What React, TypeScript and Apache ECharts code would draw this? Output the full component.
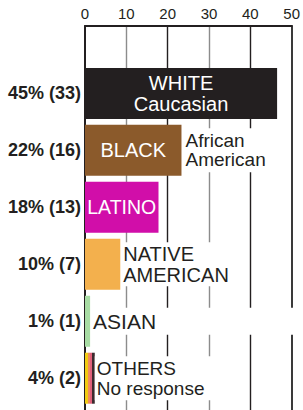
import React, { useEffect, useRef } from 'react';
import * as echarts from 'echarts';

// ---- data ----
const categories = ['WHITE', 'BLACK', 'LATINO', 'NATIVE AMERICAN', 'ASIAN', 'OTHERS'];
const percentLabels = ['45%', '22%', '18%', '10%', '1%', '4%'];
const countLabels = ['(33)', '(16)', '(13)', '(7)', '(1)', '(2)'];
const barValues = [45.2, 22.7, 17.3, 8.3, 1.2, 2.3];
const insideTexts = ['WHITE\nCaucasian', 'BLACK', 'LATINO', '', '', ''];
const outsideTexts = ['', 'African\nAmerican', '', 'NATIVE\nAMERICAN', 'ASIAN', 'OTHERS\nNo response'];
const axisMin = 0;
const axisMax = 50;
const axisStep = 10;

// ---- styles ----
const FONT = '"Liberation Sans", Arial, Helvetica, sans-serif';
const DARK = '#231f20';
const othersGradient = {
  type: 'linear', x: 0, y: 0, x2: 1, y2: 0,
  colorStops: [
    { offset: 0, color: '#f1cc12' }, { offset: 0.33, color: '#f1cc12' },
    { offset: 0.33, color: '#f08a5c' }, { offset: 0.5, color: '#f08a5c' },
    { offset: 0.5, color: '#e0607a' }, { offset: 0.72, color: '#e0607a' },
    { offset: 0.72, color: '#3b2a2e' }, { offset: 1, color: '#3b2a2e' },
  ],
};
const barColors: any[] = ['#231f20', '#8b5a2b', '#d10ea9', '#f3b04d', '#a8dca4', othersGradient];

const insideStyles: any[] = [
  { fontSize: 20, lineHeight: 21 },
  { fontSize: 20, lineHeight: 20 },
  { fontSize: 19.5, lineHeight: 20 },
  {}, {}, {},
];
const outsideStyles: any[] = [
  {},
  { fontSize: 19, lineHeight: 19, padding: [3, 3, 3, 3], distance: 1, width: 80 },
  {},
  { fontSize: 20, lineHeight: 21, padding: [1, 3, 1, 2], distance: 1, width: 112 },
  { fontSize: 21, lineHeight: 21, padding: [3, 0, 3, 2], distance: 1, width: 204 },
  { fontSize: 19, lineHeight: 20, padding: [2, 3, 2, 2], distance: 0, width: 140 },
];

export default function App() {
  const ref = useRef<HTMLDivElement>(null);
  useEffect(() => {
    document.body.style.margin = '0';
    const chart = echarts.init(ref.current!, null, { renderer: 'svg' });
    const option: any = {
      animation: false,
      backgroundColor: '#fff',
      textStyle: { fontFamily: FONT },
      grid: [
        { left: 85, right: 5.5, top: 26, height: 420 },
        { left: 85, right: 5.5, top: 64.9, height: 341.8 },
      ],
      xAxis: [
        {
          gridIndex: 0, type: 'value', min: axisMin, max: axisMax, interval: axisStep, position: 'top',
          axisLine: { show: true, onZero: false, lineStyle: { color: DARK, width: 2 } },
          axisTick: { show: false },
          axisLabel: { fontSize: 15, color: DARK, margin: 5, fontFamily: FONT },
          splitLine: {
            show: true, showMinLine: false, showMaxLine: false,
            lineStyle: { color: ['#8c8c8c', DARK], width: 1.4 },
          },
        },
        { gridIndex: 1, type: 'value', min: axisMin, max: axisMax, show: false },
      ],
      yAxis: [
        {
          gridIndex: 0, type: 'value', min: 0, max: 1, position: 'left',
          axisLine: { show: true, onZero: false, lineStyle: { color: DARK, width: 2 } },
          axisTick: { show: false }, axisLabel: { show: false }, splitLine: { show: false },
        },
        {
          gridIndex: 0, type: 'value', min: 0, max: 1, position: 'right',
          axisLine: { show: true, onZero: false, lineStyle: { color: '#3a3a3a', width: 2 } },
          axisTick: { show: false }, axisLabel: { show: false }, splitLine: { show: false },
        },
        {
          gridIndex: 1, type: 'category', data: categories, inverse: true,
          axisLine: { show: false }, axisTick: { show: false }, splitLine: { show: false },
          axisLabel: {
            margin: 4, fontSize: 18, fontWeight: 'bold', color: DARK, fontFamily: FONT,
            formatter: (_v: string, i: number) => `${percentLabels[i]} ${countLabels[i]}`,
          },
        },
      ],
      series: [
        {
          type: 'bar', xAxisIndex: 1, yAxisIndex: 2, barWidth: 51, barGap: '-100%',
          data: barValues.map((v, i) => ({
            value: v,
            itemStyle: { color: barColors[i] },
            label: {
              show: insideTexts[i] !== '', position: 'inside', formatter: insideTexts[i],
              color: '#fff', fontFamily: FONT, ...insideStyles[i],
            },
          })),
        },
        {
          type: 'bar', xAxisIndex: 1, yAxisIndex: 2, barWidth: 51, barGap: '-100%', silent: true,
          data: barValues.map((v, i) => ({
            value: v,
            itemStyle: { color: 'rgba(0,0,0,0)' },
            label: {
              show: outsideTexts[i] !== '', position: 'right', formatter: outsideTexts[i],
              color: DARK, fontFamily: FONT, backgroundColor: '#fff', align: 'left',
              ...outsideStyles[i],
            },
          })),
        },
      ],
    };
    chart.setOption(option);
    return () => chart.dispose();
  }, []);
  return <div ref={ref} style={{ width: 303, height: 410 }} />;
}
